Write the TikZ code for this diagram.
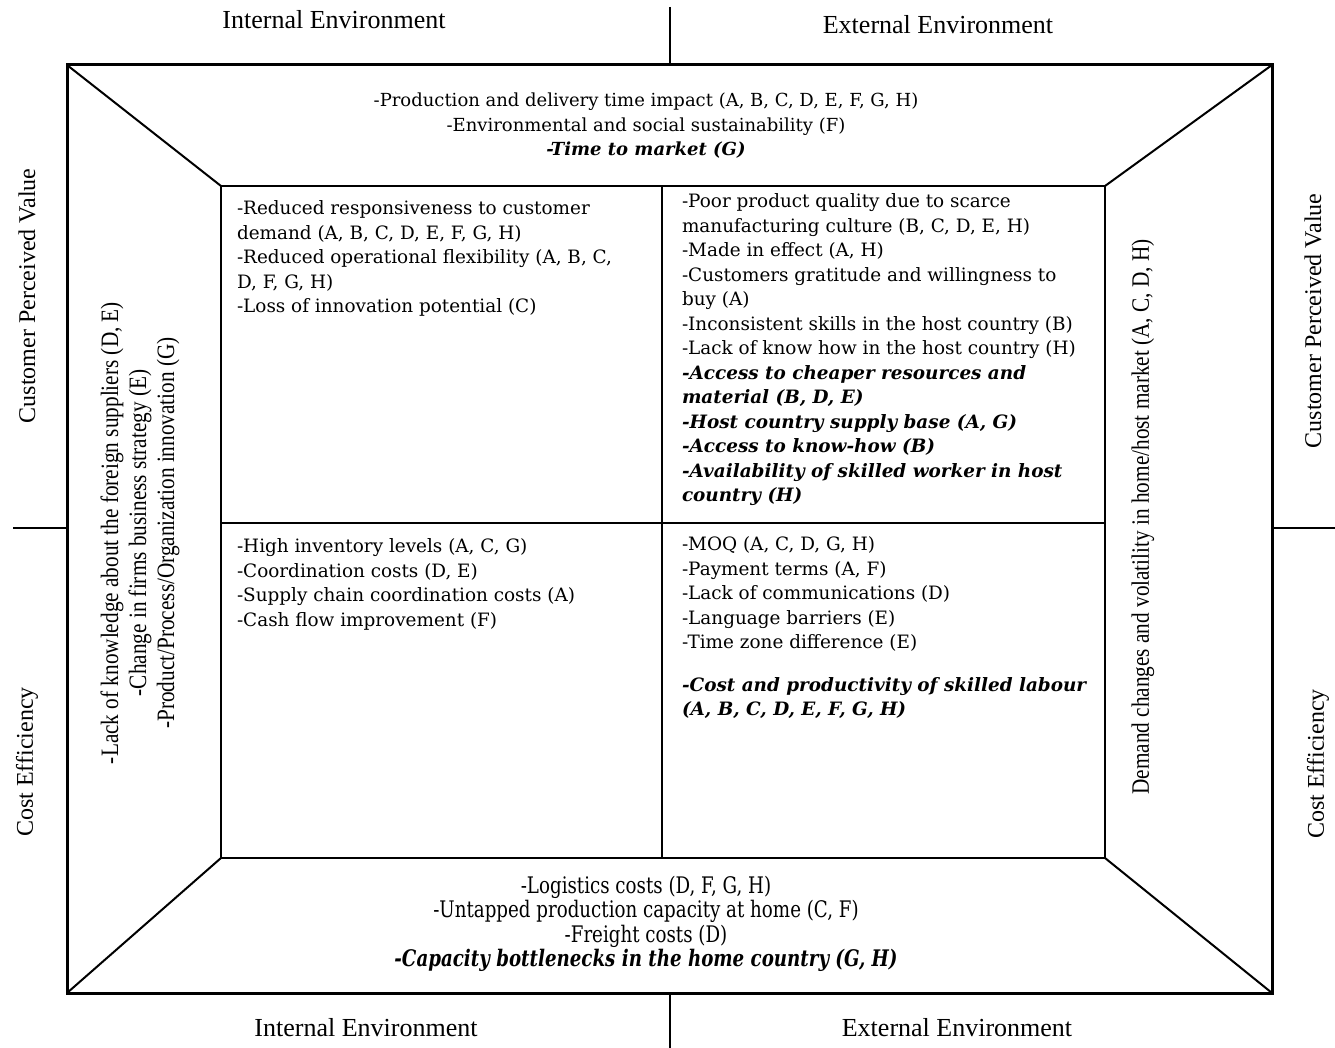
\documentclass[tikz,border=0pt]{standalone}
\usepackage{fontspec}
\setmainfont{Liberation Serif}
\newfontfamily\cellfont{DejaVu Serif}
\newfontfamily\narrowcellfont[FakeStretch=0.8]{DejaVu Serif}
\newfontfamily\narrowfont[FakeStretch=0.85]{Liberation Serif}

\tikzset{every picture/.style={line width=1pt}}
\tikzset{
	cell text/.style={anchor=north west, inner sep=0pt, align=left, font=\cellfont\fontsize{9.2}{12.25}\selectfont},
	band text/.style={anchor=north, inner sep=0pt, align=center, font=\cellfont\fontsize{9}{12.25}\selectfont},
	low band text/.style={anchor=north, inner sep=0pt, align=center, font=\narrowcellfont\fontsize{11.4}{12.25}\selectfont},
	env label/.style={inner sep=0pt, font=\fontsize{13}{15}\selectfont},
	axis label/.style={inner sep=0pt, rotate=90, font=\fontsize{12}{14}\selectfont},
	side text/.style={inner sep=0pt, rotate=90, align=center, font=\narrowfont\fontsize{12.5}{14}\selectfont}}

\begin{document}
\begin{tikzpicture}[x=0.5pt,y=0.5pt,yscale=-1,xscale=1]
	\useasboundingbox (0,0) rectangle (1335,1048);

	%Shape: Rectangle [outer frame]
	\draw [line width=1.5pt]  (67,65) -- (1272,65) -- (1272,993) -- (67,993) -- cycle ;
	%Shape: Rectangle [inner frame]
	\draw [line width=1.2pt]  (221,186) -- (1105,186) -- (1105,858) -- (221,858) -- cycle ;
	%Straight Lines [inner dividers]
	\draw [line width=1.2pt]    (662,186) -- (662,858) ;
	\draw [line width=1.2pt]    (221,523) -- (1105,523) ;
	%Straight Lines [corner diagonals]
	\draw    (67,65) -- (221,186) ;
	\draw    (1272,65) -- (1105,186) ;
	\draw    (67,993) -- (221,858) ;
	\draw    (1272,993) -- (1105,858) ;
	%Straight Lines [outside ticks]
	\draw    (670,7) -- (670,65) ;
	\draw    (670,993) -- (670,1048) ;
	\draw    (13,528) -- (67,528) ;
	\draw    (1272,528) -- (1335,528) ;

	% Text Node
	\draw (334,20) node [env label] (intTop) {Internal Environment};
	% Text Node
	\draw (938,25) node [env label] (extTop) {External Environment};
	% Text Node
	\draw (366,1028) node [env label] (intBot) {Internal Environment};
	% Text Node
	\draw (957,1028) node [env label] (extBot) {External Environment};
	% Text Node
	\draw (27,296) node [axis label] (cpvLeft) {Customer Perceived Value};
	% Text Node
	\draw (27,762) node [axis label] (ceLeft) {Cost Efficiency};
	% Text Node
	\draw (1313,321) node [axis label] (cpvRight) {Customer Perceived Value};
	% Text Node
	\draw (1318,764) node [axis label] (ceRight) {Cost Efficiency};

	% Text Node
	\draw (646,92) node [band text] (topBand) {-Production and delivery time impact (A, B, C, D, E, F, G, H)\\-Environmental and social sustainability (F)\\\textbf{\textit{-Time to market (G)}}};
	% Text Node
	\draw (646,875) node [low band text] (botBand) {-Logistics costs (D, F, G, H)\\-Untapped production capacity at home (C, F)\\-Freight costs (D)\\\textbf{\textit{-Capacity bottlenecks in the home country (G, H)}}};
	% Text Node
	\draw (140,533) node [side text] (leftBand) {-Lack of knowledge about the foreign suppliers (D, E)\\-Change in firms business strategy (E)\\-Product/Process/Organization innovation (G)};
	% Text Node
	\draw (1143,517) node [side text] (rightBand) {Demand changes and volatility in home/host market (A, C, D, H)};

	% Text Node
	\draw (236,200) node [cell text] (cellIntCpv) {-Reduced responsiveness to customer\\demand (A, B, C, D, E, F, G, H)\\-Reduced operational flexibility (A, B, C,\\D, F, G, H)\\-Loss of innovation potential (C)};
	% Text Node
	\draw (681,193) node [cell text] (cellExtCpv) {-Poor product quality due to scarce\\manufacturing culture (B, C, D, E, H)\\-Made in effect (A, H)\\-Customers gratitude and willingness to\\buy (A)\\-Inconsistent skills in the host country (B)\\-Lack of know how in the host country (H)\\\textbf{\textit{-Access to cheaper resources and}}\\\textbf{\textit{material (B, D, E)}}\\\textbf{\textit{-Host country supply base (A, G)}}\\\textbf{\textit{-Access to know-how (B)}}\\\textbf{\textit{-Availability of skilled worker in host}}\\\textbf{\textit{country (H)}}};
	% Text Node
	\draw (236,538) node [cell text] (cellIntCe) {-High inventory levels (A, C, G)\\-Coordination costs (D, E)\\-Supply chain coordination costs (A)\\-Cash flow improvement (F)};
	% Text Node
	\draw (681,536) node [cell text] (cellExtCe) {-MOQ (A, C, D, G, H)\\-Payment terms (A, F)\\-Lack of communications (D)\\-Language barriers (E)\\-Time zone difference (E)\\[9pt]\textbf{\textit{-Cost and productivity of skilled labour}}\\\textbf{\textit{(A, B, C, D, E, F, G, H)}}};

\end{tikzpicture}
\end{document}
